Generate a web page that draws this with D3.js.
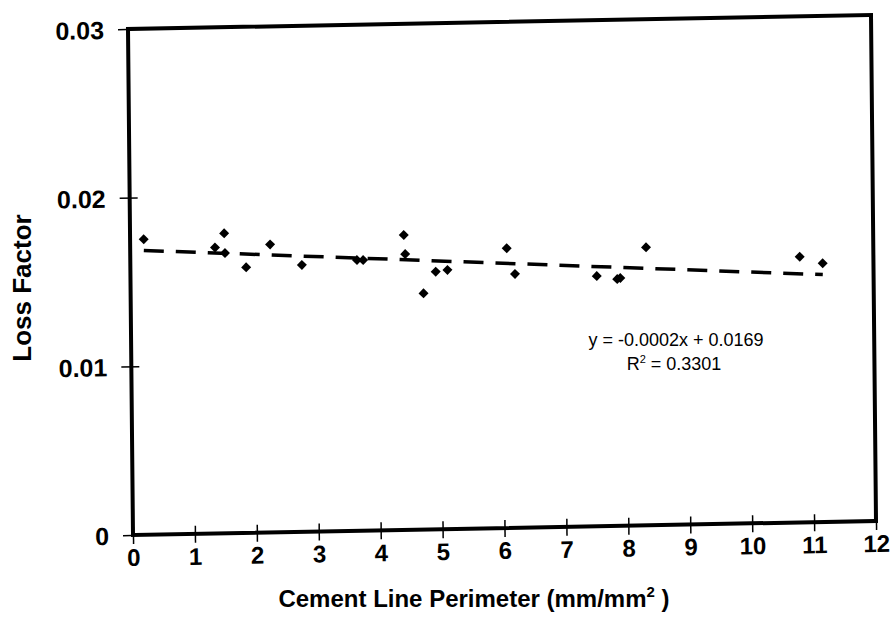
<!DOCTYPE html>
<html><head><meta charset="utf-8">
<script src="https://cdn.jsdelivr.net/npm/d3@7"></script>
<style>body{margin:0;background:#fff;} svg{display:block;} text{font-family:"Liberation Sans",Arial,sans-serif;fill:#000;}</style>
</head><body><svg id="chart" width="896" height="637"></svg>
<script>
// ---- data ----
const xTicks = [0,1,2,3,4,5,6,7,8,9,10,11,12];
const yTicks = [0, 0.01, 0.02, 0.03];
const yTickLabels = ["0", "0.01", "0.02", "0.03"];
const perimeter  = [0.22, 1.37, 1.52, 1.53, 1.87, 2.26, 2.77, 3.66, 3.76, 4.42, 4.44, 4.73, 4.93, 5.12, 6.08, 6.21, 7.53, 7.86, 7.91, 8.33, 10.81, 11.18];
const lossFactor = [0.01752, 0.01695, 0.01778, 0.01661, 0.01574, 0.01707, 0.01582, 0.01605, 0.01604, 0.01748, 0.01635, 0.0140, 0.01527, 0.01536, 0.01658, 0.01505, 0.01483, 0.01463, 0.01469, 0.01648, 0.01575, 0.01534];
const trendSlope = -0.0002;
const trendIntercept = 0.0169;
const equationLabel = "y = -0.0002x + 0.0169";
const r2Value = "0.3301";
const xTitle = "Cement Line Perimeter (mm/mm";
const yTitle = "Loss Factor";

// ---- layout ----
const svg = d3.select("#chart");
const W = 743, H = 506;
// slight skew of the scanned page
const g = svg.append("g").attr("transform", `matrix(1,${-14/743},${5/506},1,128,29)`);

const x = d3.scaleLinear().domain([0, 12]).range([0, W]);
const y = d3.scaleLinear().domain([0, 0.03]).range([H, 0]);

// x axis
const xAxis = g.append("g").attr("transform", `translate(0,${H})`)
  .call(d3.axisBottom(x).tickValues(xTicks).tickFormat(d3.format("d")).tickSizeOuter(0).tickSizeInner(9).tickPadding(0));
xAxis.select(".domain").remove();
xAxis.selectAll(".tick line").attr("y1", -8).attr("y2", 9).attr("stroke", "#000").attr("stroke-width", 1.5);
xAxis.selectAll(".tick text").attr("y", 31).attr("dy", null).attr("dominant-baseline", null)
  .style("font-size", "24px").style("font-weight", "bold").attr("fill", "#000");

// y axis
const yAxis = g.append("g")
  .call(d3.axisLeft(y).tickValues(yTicks).tickFormat((d, i) => yTickLabels[i]).tickSizeOuter(0).tickSizeInner(10).tickPadding(0));
yAxis.select(".domain").remove();
yAxis.selectAll(".tick line").attr("x1", -10).attr("x2", 8).attr("stroke", "#000").attr("stroke-width", 1.5);
yAxis.selectAll(".tick text").attr("x", -24).attr("dy", "0.36em")
  .style("font-size", "25px").style("font-weight", "bold").attr("fill", "#000");

// frame
g.append("rect").attr("x", 0).attr("y", 0).attr("width", W).attr("height", H)
  .attr("fill", "none").attr("stroke", "#000").attr("stroke-width", 4);

// trendline
const xMin = d3.min(perimeter), xMax = d3.max(perimeter);
g.append("line")
  .attr("x1", x(xMin)).attr("y1", y(trendSlope * xMin + trendIntercept))
  .attr("x2", x(xMax)).attr("y2", y(trendSlope * xMax + trendIntercept))
  .attr("stroke", "#000").attr("stroke-width", 3.5).attr("stroke-dasharray", "20,12");

// points
const pts = perimeter.map((p, i) => [p, lossFactor[i]]);
g.selectAll("path.pt").data(pts).enter().append("path").attr("class", "pt")
  .attr("d", d3.symbol().type(d3.symbolSquare).size(50))
  .attr("transform", d => `translate(${x(d[0])},${y(d[1])}) rotate(45)`)
  .attr("fill", "#000");

// y title
svg.append("text").attr("transform", "translate(31,288) rotate(-90)")
  .attr("text-anchor", "middle").style("font-size", "26px").style("font-weight", "bold").text(yTitle);

// x title
const xt = svg.append("text").attr("x", 474).attr("y", 607).attr("text-anchor", "middle")
  .style("font-size", "24px").style("font-weight", "bold");
xt.append("tspan").text(xTitle);
xt.append("tspan").attr("dy", -10).style("font-size", "15px").text("2");
xt.append("tspan").attr("dy", 10).text(" )");

// equation
svg.append("text").attr("x", 676).attr("y", 346).attr("text-anchor", "middle")
  .style("font-size", "18px").text(equationLabel);
const r2 = svg.append("text").attr("x", 674).attr("y", 370).attr("text-anchor", "middle").style("font-size", "18px");
r2.append("tspan").text("R");
r2.append("tspan").attr("dy", -7).style("font-size", "11px").text("2");
r2.append("tspan").attr("dy", 7).text(" = " + r2Value);
</script></body></html>
